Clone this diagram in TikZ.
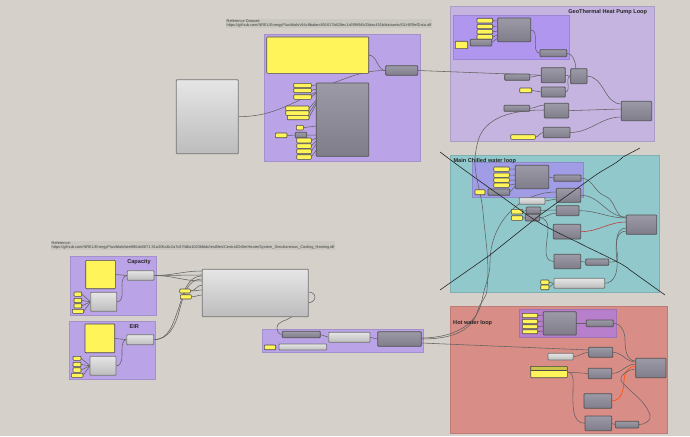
\documentclass[tikz,border=0pt]{standalone}
\usepackage{fontspec}
\setmainfont{Liberation Sans}
\usetikzlibrary{backgrounds}
\definecolor{PageClr}{HTML}{D5D1CA}
\definecolor{PurpleClr}{HTML}{BAA4E7}
\definecolor{GeoClr}{HTML}{C4B4DF}
\definecolor{GeoInClr}{HTML}{B096EF}
\definecolor{ChillClr}{HTML}{90C8CC}
\definecolor{ChillInClr}{HTML}{A09CE6}
\definecolor{HotClr}{HTML}{D98D87}
\definecolor{HotInClr}{HTML}{B880CC}
\definecolor{YelClr}{HTML}{FFF55A}
\definecolor{BandClr}{HTML}{C9C7C0}
\definecolor{GryTopClr}{HTML}{9C9AA6}
\definecolor{GryBotClr}{HTML}{7F7D8A}
\tikzset{
  panel/.style={draw=#1!88!black,fill=#1,line width=.7pt},
  yel/.style={draw=black!70,fill=YelClr,line width=.6pt,rounded corners=.8pt},
  gry/.style={draw=black!68,top color=GryTopClr,bottom color=GryBotClr,line width=.8pt,rounded corners=.8pt},
  wht/.style={draw=black!55,top color=black!10,bottom color=black!26,line width=.8pt,rounded corners=.8pt},
  wire/.style={draw=black!62,line width=.55pt},
  redwire/.style={draw=#1,line width=.6pt},
  cross/.style={draw=black!85,line width=.6pt},
  looptitle/.style={font=\bfseries\fontsize{5.6}{6}\selectfont,inner sep=0pt,text=black!85},
  refnote/.style={anchor=north west,align=left,fill=BandClr,inner xsep=.5pt,inner ysep=.6pt,text=black!75,font=\fontsize{3.9}{4.4}\selectfont}
}
\newcommand{\cbox}[6]{%
  \pgfmathsetmacro\cboxw{#5-#3}\pgfmathsetmacro\cboxh{#6-#4}%
  \node[inner sep=0pt,outer sep=0pt,minimum width=\cboxw pt,minimum height=\cboxh pt,#1] (#2) at ({(#3+#5)/2},{(#4+#6)/2}) {};}
\begin{document}
\begin{tikzpicture}[x=1pt,y=-1pt]
\useasboundingbox (0,0) rectangle (690,436);

\begin{pgfonlayer}{background}
\fill[PageClr] (0,0) rectangle (690,436);
\cbox{panel=PurpleClr}{dataPanel}{264.3}{34}{420.7}{161.7}
\cbox{panel=GeoClr}{geoPanel}{450.7}{6}{654}{141.7}
\cbox{panel=GeoInClr}{geoInner}{453}{15.3}{569.3}{59}
\cbox{panel=ChillClr}{chillPanel}{450}{155}{659}{292}
\cbox{panel=ChillInClr}{chillInner}{472.7}{162.7}{583.7}{197.7}
\cbox{panel=HotClr}{hotPanel}{450}{306.7}{667.7}{433.3}
\cbox{panel=HotInClr}{hotInner}{519.3}{309.3}{616}{337.3}
\cbox{panel=PurpleClr}{capPanel}{70.3}{256.3}{156.3}{315.7}
\cbox{panel=PurpleClr}{eirPanel}{69.3}{321.7}{155.7}{379.7}
\cbox{panel=PurpleClr}{plantPanel}{262.3}{329.3}{423.7}{352.3}
\end{pgfonlayer}

\node[refnote] (noteData) at (226,18.5) {Reference Dataset:\\https://github.com/NREL/EnergyPlus/blob/v94c9babec891617b828ec1a5f9994b33dac491b/datasets/GLHERefData.idf};
\node[refnote] (notePlant) at (51,240.5) {Reference:\\https://github.com/NREL/EnergyPlus/blob/bee886ab5671 81a306a8c2a7c67fd6a10636bbb/testfiles/CentralChillerHeaterSystem\_Simultaneous\_Cooling\_Heating.idf};
\node[looptitle] (geoTitle) at (607.7,12) {GeoThermal Heat Pump Loop};
\node[looptitle,anchor=west] (chillTitle) at (453.3,161) {Main Chilled water loop};
\node[looptitle,anchor=west] (hotTitle) at (453,323) {Hot water loop};
\node[looptitle] (capTitle) at (139,262) {Capacity};
\node[looptitle] (eirTitle) at (134.3,327) {EIR};

% dataset group
\cbox{wht}{dataIn}{176.3}{79.7}{238.3}{153.7}
\cbox{yel}{dataText}{266.7}{37}{368.7}{73.3}
\cbox{gry}{dataOut}{385.7}{65.7}{417.7}{75.3}
\cbox{gry}{dataMain}{316.3}{83}{368.7}{156.3}
\cbox{yel}{dy1}{293.7}{83.3}{311.3}{87.7}
\cbox{yel}{dy2}{293.7}{88.3}{311.3}{92.7}
\cbox{yel}{dy3}{293.7}{94.7}{311.3}{99.3}
\cbox{yel}{dy4}{285.7}{106}{309}{110.7}
\cbox{yel}{dy5}{285.7}{110.7}{309}{115.3}
\cbox{yel}{dy6}{287.3}{115.3}{309}{119.7}
\cbox{yel}{dy7}{296.3}{125.3}{303.3}{130}
\cbox{yel}{dy8}{275.3}{133}{287}{137.7}
\cbox{gry}{dg1}{295.3}{132.3}{306.7}{138}
\cbox{yel}{dy9}{296.7}{138}{311.3}{143}
\cbox{yel}{dy10}{296.7}{143.7}{311.3}{148.3}
\cbox{yel}{dy11}{296.7}{149}{311.3}{153.7}
\cbox{yel}{dy12}{296.7}{154.7}{311.3}{159.3}

% geothermal loop
\cbox{yel}{gy1}{477}{18.3}{492.7}{23}
\cbox{yel}{gy2}{477}{24.3}{492.7}{28.7}
\cbox{yel}{gy3}{477}{29.7}{492.7}{34}
\cbox{yel}{gy4}{477}{34.7}{492.7}{39.3}
\cbox{gry}{gMain}{497.7}{18}{530.7}{41.7}
\cbox{yel}{gy5}{455.3}{41.3}{467.7}{48.7}
\cbox{gry}{gg1}{470.3}{39.3}{491.7}{46}
\cbox{gry}{gg2}{540}{49.7}{566.7}{56.7}
\cbox{gry}{gg3}{541.3}{67.7}{565.3}{82.7}
\cbox{gry}{gg4}{570.7}{68.7}{587}{83.7}
\cbox{gry}{gg5}{504.7}{74}{529.7}{80.3}
\cbox{yel}{gy6}{519.7}{88}{531.7}{92.7}
\cbox{gry}{gg6}{541.3}{87}{565.3}{97}
\cbox{gry}{gg7}{504}{105.3}{529.7}{111.3}
\cbox{gry}{gg8}{544.3}{103.3}{568.7}{118}
\cbox{gry}{gEnd}{621.3}{101.3}{651.7}{120.7}
\cbox{yel}{gy7}{510.7}{134.7}{535.3}{139.3}
\cbox{gry}{gg9}{543.3}{127.3}{570}{137.7}

% chilled water loop
\cbox{yel}{cy1}{493.7}{167}{509.3}{171.3}
\cbox{yel}{cy2}{493.7}{173}{509.3}{177.3}
\cbox{yel}{cy3}{493.7}{178}{509.3}{182.3}
\cbox{yel}{cy4}{493.7}{183}{509.3}{187.3}
\cbox{gry}{cMain}{515.3}{165.3}{548.7}{188.7}
\cbox{gry}{cg1}{554}{175}{581}{181.3}
\cbox{yel}{cy5}{475}{189.7}{485}{194.7}
\cbox{gry}{cg2}{488}{189}{509.7}{195.3}
\cbox{gry}{cg3}{556.3}{188.3}{580.7}{202.3}
\cbox{wht}{cw1}{519.3}{197.7}{545}{204.3}
\cbox{yel}{cy6}{511.3}{209.3}{522.7}{214}
\cbox{yel}{cy7}{511.3}{215.7}{522.7}{220.3}
\cbox{gry}{cg4}{526.3}{207}{540.7}{213.7}
\cbox{gry}{cg5}{525.3}{214.3}{539.7}{221}
\cbox{gry}{cg6}{556.3}{205.7}{579}{215.7}
\cbox{gry}{cg7}{553.3}{224.3}{580.7}{239}
\cbox{gry}{cEnd}{626.3}{215}{656.7}{234.3}
\cbox{gry}{cg8}{554}{254.3}{580.7}{268.7}
\cbox{gry}{cg9}{585.7}{259}{608.7}{265.3}
\cbox{yel}{cy8}{540.7}{280}{549}{284.3}
\cbox{yel}{cy9}{540.7}{285}{549}{289.7}
\cbox{wht}{cw2}{554}{278.3}{604.7}{288.3}

% hot water loop
\cbox{yel}{hy1}{522.3}{313.3}{537.7}{317.7}
\cbox{yel}{hy2}{522.3}{319.3}{537.7}{323.7}
\cbox{yel}{hy3}{522.3}{324.7}{537.7}{328.7}
\cbox{yel}{hy4}{522.3}{329.7}{537.7}{333.7}
\cbox{gry}{hMain}{543.3}{311.7}{576.3}{335}
\cbox{gry}{hg1}{586.3}{320}{613.3}{326.7}
\cbox{gry}{hg2}{588.7}{347.3}{612.7}{357.3}
\cbox{wht}{hw1}{548}{353.3}{573.3}{360}
\cbox{yel}{hy5}{530.7}{366.3}{567.3}{377.7}
\cbox{yel,fill=YelClr!80!black}{hyBand}{530.7}{366.3}{567.3}{370.5}
\cbox{gry}{hg3}{588.3}{368.3}{611.7}{378.7}
\cbox{gry}{hEnd}{635.7}{358.3}{666}{377.7}
\cbox{gry}{hg4}{584}{393.7}{611.7}{408.3}
\cbox{gry}{hg5}{585}{416}{611.7}{430.7}
\cbox{gry}{hg6}{615.3}{421.3}{638.7}{428}

% capacity and EIR curves
\cbox{yel}{capText}{85.7}{260.3}{115.3}{288.7}
\cbox{wht}{capOut}{127.3}{270.7}{154}{280.3}
\cbox{wht}{capFit}{90.7}{292.3}{116.7}{311.3}
\cbox{yel}{py1}{74}{292}{81.7}{296.3}
\cbox{yel}{py2}{74}{298.3}{81.7}{302.7}
\cbox{yel}{py3}{74}{303.7}{81.7}{308}
\cbox{yel}{py4}{72.3}{309.3}{83.7}{313.3}
\cbox{yel}{eirText}{85}{324}{114.7}{352.7}
\cbox{wht}{eirOut}{126.7}{334.7}{153.7}{344.7}
\cbox{wht}{eirFit}{90}{356.3}{116}{375.3}
\cbox{yel}{ey1}{73}{356.3}{81}{360.3}
\cbox{yel}{ey2}{73}{362.3}{81}{366.7}
\cbox{yel}{ey3}{73}{367.7}{81}{372.3}
\cbox{yel}{ey4}{71.3}{373.3}{83}{377.3}
\cbox{yel}{my1}{179.7}{289}{190.3}{293}
\cbox{yel}{my2}{180.3}{294.7}{191.3}{299}
\cbox{wht}{plantMain}{202.3}{269.3}{308.3}{316.7}
\cbox{gry}{pg1}{282.3}{331.3}{320.3}{337.7}
\cbox{wht}{pw1}{328.7}{332.3}{370}{342.3}
\cbox{gry}{pOut}{377.7}{331.7}{421.3}{346.3}
\cbox{yel}{py5}{264.3}{345}{275.7}{349.7}
\cbox{wht}{pw2}{279}{344}{326.7}{350}

\begin{pgfonlayer}{background}
\draw[wire] (dataIn.east) to[out=0,in=-155] (dataMain.west|-0,92);
\draw[wire] (dataText.east) to[out=0,in=180] (dataOut.west);
\draw[wire] (333,83) to[out=20,in=180] (dataOut.west);
\draw[wire] (dataOut.east) -- (gg3.west);
\foreach \n/\h in {dy1/85,dy2/89,dy3/93,dy4/100,dy5/102,dy6/104,dy7/126,dg1/135,dy9/138,dy10/141,dy11/144,dy12/150}
  \draw[wire] (\n.east) -- (dataMain.west|-0,\h);
\draw[wire] (dy8.east) -- (dg1.west);

\foreach \n/\h in {gy1/21,gy2/26,gy3/31,gy4/35,gg1/38}
  \draw[wire] (\n.east) -- (gMain.west|-0,\h);
\draw[wire] (gMain.east) to[out=0,in=180] (gg2.west);
\draw[wire] (gg2.east) to[out=0,in=0] (gg4.west);
\draw[wire] (gg3.east) -- (gg4.west);
\draw[wire] (gg6.east) to[out=0,in=180] (gg4.west);
\draw[wire] (gg5.east) to[out=0,in=180] (gg3.west);
\draw[wire] (gy6.east) -- (gg6.west);
\draw[wire] (gg7.east) to[out=0,in=180] (gg8.west|-0,105);
\draw[wire] (gg4.east) to[out=0,in=180] (gEnd.west|-0,104);
\draw[wire] (gg8.east) -- (gEnd.west|-0,109);
\draw[wire] (gg9.east) to[out=0,in=180] (gEnd.west|-0,117);
\draw[wire] (gy7.east) to[out=0,in=180] (gg9.west);

\foreach \n/\h in {cy1/169,cy2/175,cy3/180,cy4/184,cg2/186}
  \draw[wire] (\n.east) -- (cMain.west|-0,\h);
\draw[wire] (cMain.east) -- (cg1.west);
\draw[wire] (cg1.east) to[out=0,in=160] (605,196) to[out=-20,in=180] (cEnd.west|-0,218);
\draw[wire] (cg3.east) to[out=0,in=180] (cEnd.west|-0,217);
\draw[wire] (cg6.east) to[out=0,in=180] (cEnd.west|-0,218);
\draw[redwire=red!55!gray] (cg7.east) to[out=0,in=180] (cEnd.west|-0,222);
\draw[wire] (cg9.east) to[out=0,in=-80] (618,258) to[out=100,in=180] (cEnd.west|-0,228);
\draw[wire] (cw2.east) to[out=0,in=-85] (617,262) to[out=95,in=180] (cEnd.west|-0,231);
\draw[wire] (cg8.east) -- (cg9.west);
\draw[wire] (cy8.east) -- (cw2.west);
\draw[wire] (cy9.east) -- (cw2.west);
\draw[wire] (cw1.east) -- (cg3.west|-0,199);
\draw[wire] (cy6.east) -- (cg4.west);
\draw[wire] (cy7.east) -- (cg5.west);
\draw[wire] (cg4.east) -- (cg6.west|-0,210);
\draw[wire] (cg5.east) to[out=0,in=180] (cg6.west|-0,213);
\draw[wire] (cg5.east) to[out=0,in=90] (548,228) to[out=-90,in=180] (cg8.west);

\foreach \n/\h in {hy1/315,hy2/321,hy3/326,hy4/331}
  \draw[wire] (\n.east) -- (hMain.west|-0,\h);
\draw[wire] (hMain.east) -- (hg1.west);
\draw[wire] (hg1.east) to[out=0,in=90] (625,340) to[out=-90,in=180] (hEnd.west|-0,361);
\draw[wire] (hg2.east) to[out=0,in=180] (hEnd.west|-0,362);
\draw[wire] (hw1.east) to[out=0,in=180] (hg2.west);
\draw[wire] (hy5.east) -- (hg3.west);
\draw[wire] (hy5.east) to[out=0,in=90] (573,390) to[out=-90,in=180] (hg5.west);
\draw[wire] (hg3.east) to[out=0,in=180] (hEnd.west|-0,364);
\draw[redwire=orange!60!red] (hg4.east) to[out=0,in=-90] (624,380) to[out=90,in=180] (hEnd.west|-0,366);
\draw[wire] (hg5.east) -- (hg6.west);
\draw[wire] (hg6.east) to[out=0,in=-70] (650,415) to[out=110,in=-50] (622,382) to[out=130,in=180] (hEnd.west|-0,369);

\foreach \n in {py1,py2,py3,py4}
  \draw[wire] (\n.east) -- (capFit.west);
\foreach \n in {ey1,ey2,ey3,ey4}
  \draw[wire] (\n.east) -- (eirFit.west);
\draw[wire] (capText.east) -- (capOut.west);
\draw[wire] (capFit.east) to[out=0,in=-90] (122,285) to[out=90,in=180] (capOut.west);
\draw[wire] (eirText.east) -- (eirOut.west);
\draw[wire] (eirFit.east) to[out=0,in=-90] (122,350) to[out=90,in=180] (eirOut.west);
\draw[wire] (capOut.east) to[out=0,in=180] (plantMain.west|-0,271);
\draw[wire] (capOut.east) -- (plantMain.west|-0,275);
\draw[wire] (capOut.east) to[out=0,in=180] (plantMain.west|-0,281);
\draw[wire] (eirOut.east) to[out=0,in=-110] (178,310) to[out=70,in=180] (plantMain.west|-0,276);
\draw[wire] (eirOut.east) to[out=0,in=-105] (179,312) to[out=75,in=180] (plantMain.west|-0,279);
\draw[wire] (my1.east) to[out=0,in=180] (plantMain.west|-0,285);
\draw[wire] (my1.east) to[out=0,in=180] (plantMain.west|-0,290);
\draw[wire] (my2.east) to[out=0,in=180] (plantMain.west|-0,295);
\draw[wire] (plantMain.east|-0,292) to[out=0,in=90] (315,297) to[out=-90,in=10] (plantMain.east|-0,303);
\draw[wire] (plantMain.south-|292,0) to[out=-140,in=90] (277,328) to[out=-90,in=180] (pg1.west);
\draw[wire] (pg1.east) -- (pw1.west);
\draw[wire] (pw1.east) -- (pOut.west);

% long links from the plant to the loops
\draw[wire] (pOut.east) to[out=0,in=-105] (478,310) to[out=75,in=-95] (487,290) to[out=85,in=-85] (483,212) to[out=95,in=-85] (475,165) to[out=95,in=-100] (477,145) to[out=80,in=180] (gg8.west|-0,110);
\draw[wire] (pOut.east|-0,338) to[out=0,in=-100] (482,300) to[out=80,in=-90] (490,262) to[out=90,in=180] (cg3.west|-0,192);
\draw[wire] (pOut.east|-0,343) -- (hg2.west|-0,350);
\end{pgfonlayer}

% struck-out chilled loop
\draw[cross] (440,152) .. controls (480,182) and (500,195) .. (523,212) .. controls (545,228) and (570,238) .. (587,247) .. controls (610,258) and (625,265) .. (630,270) -- (665,295);
\draw[cross] (440,290) -- (490,255) -- (540,215) -- (593,177) .. controls (605,168) and (615,165) .. (623,157) -- (640,148);
\end{tikzpicture}
\end{document}
